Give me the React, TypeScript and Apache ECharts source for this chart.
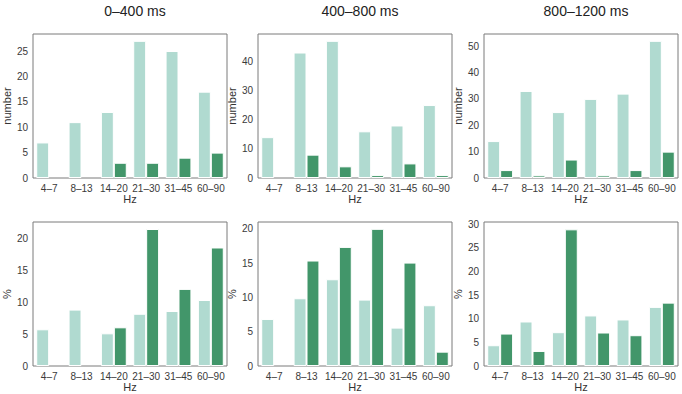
import React, { useEffect, useRef } from "react";
import * as echarts from "echarts";

const categories = ["4–7", "8–13", "14–20", "21–30", "31–45", "60–90"];
const titles = ["0–400 ms", "400–800 ms", "800–1200 ms"];

// top row: counts
const countLight1 = [7, 11, 13, 27, 25, 17];
const countDark1 = [0, 0, 3, 3, 4, 5];
const countLight2 = [14, 43, 47, 16, 18, 25];
const countDark2 = [0, 8, 4, 1, 5, 1];
const countLight3 = [14, 33, 25, 30, 32, 52];
const countDark3 = [3, 1, 7, 1, 3, 10];

// bottom row: percentages
const pctLight1 = [5.76, 8.85, 5.13, 8.2, 8.63, 10.36];
const pctDark1 = [0, 0, 6.07, 21.5, 12.1, 18.6];
const pctLight2 = [6.86, 9.88, 12.65, 9.68, 5.6, 8.86];
const pctDark2 = [0, 15.38, 17.37, 20.0, 15.08, 2.09];
const pctLight3 = [4.39, 9.41, 7.15, 10.69, 9.84, 12.5];
const pctDark3 = [6.86, 3.18, 28.9, 7.08, 6.51, 13.4];

const yMax = [28.35, 49.35, 54.6, 22.6, 21.0, 30.45];
const yStep = [5, 10, 10, 5, 5, 5];
const yNames = ["number", "number", "number", "%", "%", "%"];

const LIGHT = "#b0dad0";
const DARK = "#42966a";
const FONT = "Liberation Sans";

export default function App() {
  const ref = useRef<HTMLDivElement>(null);
  useEffect(() => {
    if (!ref.current) return;
    const chart = echarts.init(ref.current, undefined, { renderer: "svg" });
    const lefts = [33, 258, 484];
    const width = 194;
    const tops = [34, 222];
    const height = 144;
    const lightData = [countLight1, countLight2, countLight3, pctLight1, pctLight2, pctLight3];
    const darkData = [countDark1, countDark2, countDark3, pctDark1, pctDark2, pctDark3];
    const hideZero = (arr: number[]) => arr.map((v) => (v === 0 ? "-" : v));

    const grids: any[] = [];
    const xAxes: any[] = [];
    const yAxes: any[] = [];
    const series: any[] = [];
    for (let i = 0; i < 6; i++) {
      const col = i % 3;
      const row = Math.floor(i / 3);
      grids.push({
        left: lefts[col],
        top: tops[row],
        width,
        height,
        show: true,
        borderColor: "#7a7a7a",
        borderWidth: 1,
        backgroundColor: "transparent",
      });
      xAxes.push({
        type: "category",
        gridIndex: i,
        data: categories,
        name: "Hz",
        nameLocation: "middle",
        nameGap: 15,
        nameTextStyle: { fontFamily: FONT, fontSize: 11, color: "#333" },
        axisLine: { show: false },
        axisTick: { show: false },
        axisLabel: { interval: 0, fontFamily: FONT, fontSize: 10, color: "#3a3a3a", margin: 5 },
        splitLine: { show: false },
      });
      const step = yStep[i];
      yAxes.push({
        type: "value",
        gridIndex: i,
        min: 0,
        max: yMax[i],
        interval: step,
        name: yNames[i],
        nameLocation: "middle",
        nameGap: 17,
        nameRotate: 90,
        nameTextStyle: { fontFamily: FONT, fontSize: 11, color: "#333" },
        axisLine: { show: false },
        axisTick: { show: false },
        splitLine: { show: false },
        axisLabel: {
          fontFamily: FONT,
          fontSize: 10,
          color: "#3a3a3a",
          margin: 5,
          formatter: (v: number) => (Math.abs(v / step - Math.round(v / step)) < 1e-6 ? String(Math.round(v)) : ""),
        },
      });
      series.push({
        type: "bar",
        xAxisIndex: i,
        yAxisIndex: i,
        data: hideZero(lightData[i]),
        barGap: "0%",
        barCategoryGap: "20%",
        itemStyle: { color: LIGHT, borderColor: "#ffffff", borderWidth: 1 },
      });
      series.push({
        type: "bar",
        xAxisIndex: i,
        yAxisIndex: i,
        data: hideZero(darkData[i]),
        barGap: "0%",
        barCategoryGap: "20%",
        itemStyle: { color: DARK, borderColor: "#ffffff", borderWidth: 1 },
      });
    }

    chart.setOption({
      animation: false,
      backgroundColor: "#ffffff",
      title: titles.map((t, c) => ({
        text: t,
        left: lefts[c] + width / 2,
        top: -1,
        textAlign: "center",
        textStyle: { fontFamily: FONT, fontSize: 14, fontWeight: "normal", color: "#222" },
      })),
      grid: grids,
      xAxis: xAxes,
      yAxis: yAxes,
      series,
    });
    return () => chart.dispose();
  }, []);
  return (
    <div
      ref={ref}
      style={{ position: "fixed", left: 0, top: 0, width: 682, height: 394 }}
    />
  );
}
